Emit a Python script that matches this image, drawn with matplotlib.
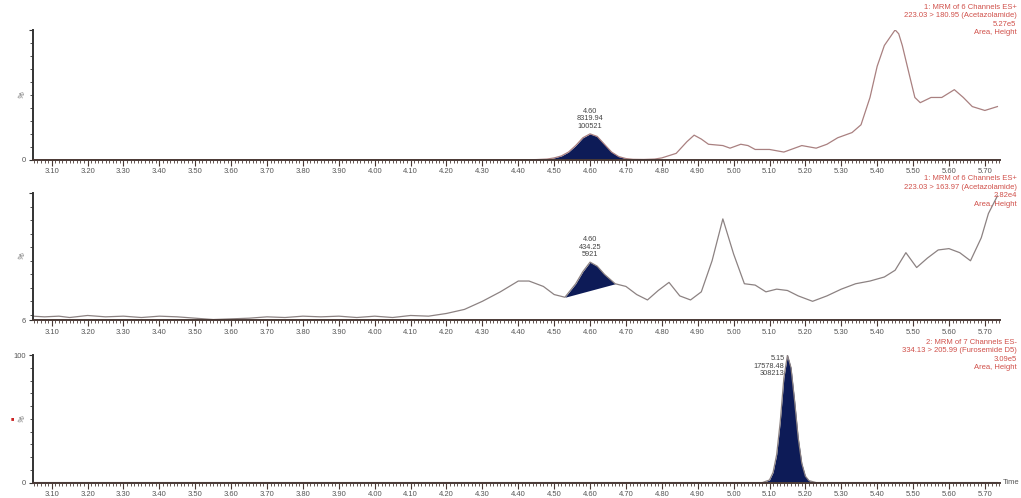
import numpy as np
import matplotlib
matplotlib.use("Agg")
import matplotlib.pyplot as plt
from matplotlib.ticker import MultipleLocator

plt.rcParams['font.family'] = ['Liberation Sans', 'DejaVu Sans']

# ---- channel 1: 223.03 > 180.95 (Acetazolamide) ----
t1 = [3.047, 3.50, 4.00, 4.40, 4.45, 4.48, 4.50, 4.52, 4.54, 4.56, 4.58, 4.60, 4.62, 4.64,
      4.66, 4.68, 4.70, 4.72, 4.75, 4.78, 4.80, 4.84, 4.87, 4.89, 4.91, 4.93, 4.97, 4.99,
      5.02, 5.04, 5.06, 5.10, 5.14, 5.19, 5.23, 5.26, 5.29, 5.33, 5.355, 5.38, 5.40, 5.42,
      5.435, 5.45, 5.46, 5.47, 5.49, 5.505, 5.52, 5.55, 5.58, 5.615, 5.64, 5.665, 5.70, 5.735]
y1 = [0, 0, 0, 0, 0.2, 0.6, 1.5, 3, 6, 11, 17, 20, 18, 12,
      6, 2.5, 1, 0.4, 0.3, 0.6, 1.5, 5, 14, 19, 16, 12, 11, 9,
      12, 11, 8, 8, 6, 11, 9, 12, 17, 21, 27, 48, 72, 88,
      94, 100, 97, 88, 65, 48, 44, 48, 48, 54, 48, 41, 38, 41]
peak1_range = (4.45, 4.74)

# ---- channel 2: 223.03 > 163.97 (Acetazolamide) ----
t2 = [3.047, 3.08, 3.12, 3.15, 3.20, 3.25, 3.30, 3.35, 3.40, 3.45, 3.50, 3.55, 3.60,
      3.65, 3.70, 3.75, 3.80, 3.85, 3.90, 3.95, 4.00, 4.05, 4.10, 4.15, 4.20, 4.25,
      4.30, 4.35, 4.40, 4.43, 4.47, 4.50, 4.53, 4.56, 4.58, 4.60, 4.62, 4.64, 4.67,
      4.70, 4.73, 4.76, 4.79, 4.82, 4.85, 4.88, 4.91, 4.94, 4.97, 5.00, 5.03, 5.06,
      5.09, 5.12, 5.15, 5.18, 5.22, 5.26, 5.30, 5.34, 5.38, 5.42, 5.45, 5.48, 5.51,
      5.54, 5.57, 5.60, 5.63, 5.66, 5.69, 5.71, 5.735]
y2 = [9, 8.5, 9, 8, 9.5, 8.5, 9, 8, 9, 8.5, 7.5, 6.5, 7,
      7.5, 8.5, 8, 9, 8.5, 9, 8, 9, 8, 9.5, 9, 11, 14,
      20, 27, 35, 35, 31, 25, 23, 33, 42, 49, 46, 40, 33,
      31, 25, 21, 28, 34, 24, 21, 27, 50, 81, 55, 33, 32,
      27, 29, 28, 24, 20, 24, 29, 33, 35, 38, 43, 56, 45,
      52, 58, 59, 56, 50, 67, 85, 98]
peak2_range = (4.53, 4.67)

# ---- channel 3: 334.13 > 205.99 (Furosemide D5) ----
t3 = [3.047, 4.00, 5.00, 5.08, 5.10, 5.11, 5.12, 5.13, 5.14, 5.15, 5.16, 5.17, 5.18,
      5.19, 5.20, 5.21, 5.23, 5.30, 5.735]
y3 = [0, 0, 0, 0, 2, 8, 22, 48, 82, 100, 90, 64, 35, 15, 5, 1.5, 0, 0, 0]
peak3_range = (5.08, 5.23)

titles = [
    "1: MRM of 6 Channels ES+\n223.03 > 180.95 (Acetazolamide)\n5.27e5\nArea, Height",
    "1: MRM of 6 Channels ES+\n223.03 > 163.97 (Acetazolamide)\n2.82e4\nArea, Height",
    "2: MRM of 7 Channels ES-\n334.13 > 205.99 (Furosemide D5)\n3.09e5\nArea, Height",
]
title_y = [1.2, 1.14, 1.13]
peak_labels = ["4.60\n8319.94\n100521", "4.60\n434.25\n5921", "5.15\n17578.48\n308213"]
peak_label_pos = [(4.60, 23, "center", "bottom"), (4.60, 52, "center", "bottom"),
                  (5.142, 100, "right", "top")]
ymins = [0, 6, 0]
ytop_labels = ["", "", "100"]
ybot_labels = ["0", "6", "0"]

fig = plt.figure(figsize=(10.21, 4.98), dpi=100)
boxes = [(0.032, 0.679, 0.947, 0.261), (0.032, 0.357, 0.947, 0.255), (0.032, 0.031, 0.947, 0.256)]
data = [(t1, y1, peak1_range, "#a98080"), (t2, y2, peak2_range, "#8c8282"), (t3, y3, peak3_range, "#8c8282")]
navy = "#0d1b57"
red = "#d0504a"

for i, (box, (t, y, pr, lc)) in enumerate(zip(boxes, data)):
    ax = fig.add_axes(box)
    t = np.array(t)
    y = np.array(y)
    ax.plot(t, y, color=lc, lw=0.9)
    m = (t >= pr[0]) & (t <= pr[1])
    if i == 1:
        base = np.interp(t[m], [t[m][0], t[m][-1]], [y[m][0], y[m][-1]])
    else:
        base = np.full(m.sum(), ymins[i])
    ax.fill_between(t[m], base, y[m], color=navy, lw=0)
    ax.set_xlim(3.047, 5.741)
    ax.set_ylim(ymins[i], 100)
    for s in ["top", "right"]:
        ax.spines[s].set_visible(False)
    ax.spines["left"].set_color("#333333")
    ax.spines["left"].set_linewidth(1.4)
    ax.spines["bottom"].set_color("#4a3a36")
    ax.spines["bottom"].set_linewidth(1.4)
    ax.xaxis.set_minor_locator(MultipleLocator(0.01))
    ax.tick_params(axis="x", which="major", length=4, width=0.8, color="#4a3a36",
                   labelsize=5.5, labelcolor="#555555", pad=2)
    ax.tick_params(axis="x", which="minor", length=2.5, width=0.6, color="#4a3a36")
    xt = np.arange(3.1, 5.75, 0.1)
    ax.set_xticks(xt)
    ax.set_xticklabels([f"{v:.2f}" for v in xt])
    ax.set_yticks([ymins[i], 100])
    ax.set_yticklabels([ybot_labels[i], ytop_labels[i]])
    ax.yaxis.set_minor_locator(MultipleLocator(10))
    ax.tick_params(axis="y", which="major", length=3, width=0.8, color="#333333",
                   labelsize=5.5, labelcolor="#555555", pad=2)
    ax.tick_params(axis="y", which="minor", length=2, width=0.6, color="#333333")
    ax.text(-0.011, 0.5, "%", transform=ax.transAxes, rotation=70, fontsize=5.5,
            color="#555555", ha="center", va="center")
    ax.text(1.0175, title_y[i], titles[i], transform=ax.transAxes, ha="right",
            va="top", fontsize=5.5, color=red, linespacing=1.3)
    px, py, ha, va = peak_label_pos[i]
    ax.text(px, py, peak_labels[i], ha=ha, va=va, fontsize=5.3, color="#444444",
            linespacing=1.1)
    if i == 2:
        ax.text(1.003, 0.0, "Time", transform=ax.transAxes, fontsize=5.5, color="#555555",
                ha="left", va="center")
        ax.text(-0.021, 0.5, "\u25a0", transform=ax.transAxes, fontsize=4,
                color="#cc2222", ha="center", va="center")

fig.savefig("out.png", dpi=100, facecolor="white")
